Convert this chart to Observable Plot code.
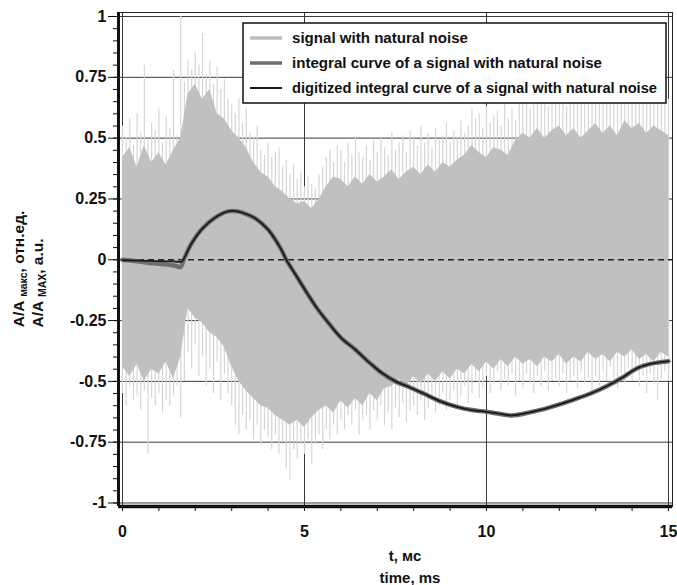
<!DOCTYPE html>
<html><head><meta charset="utf-8">
<script src="https://cdn.jsdelivr.net/npm/d3@7"></script>
<script src="https://cdn.jsdelivr.net/npm/@observablehq/plot@0.6"></script>
<style>body{margin:0;background:#fff}#chart{width:677px;height:585px}</style>
</head><body><div id="chart"></div>
<script>
// dense noise band, sampled every 0.2 ms (0 … 15 ms)
const denseHi = [0.42,0.46,0.38,0.47,0.40,0.44,0.39,0.45,0.50,0.68,0.72,0.66,0.70,0.60,0.58,0.53,0.50,0.46,0.40,0.36,
  0.34,0.30,0.28,0.25,0.23,0.24,0.21,0.25,0.30,0.34,0.33,0.30,0.34,0.31,0.35,0.32,0.34,0.37,0.33,0.36,
  0.38,0.35,0.39,0.36,0.40,0.38,0.41,0.43,0.47,0.44,0.42,0.46,0.45,0.43,0.49,0.52,0.50,0.54,0.50,0.53,
  0.55,0.51,0.54,0.50,0.53,0.56,0.52,0.55,0.51,0.57,0.54,0.56,0.52,0.55,0.53,0.51];
const denseLo = [-0.44,-0.48,-0.43,-0.50,-0.45,-0.47,-0.42,-0.49,-0.40,-0.20,-0.24,-0.26,-0.30,-0.32,-0.36,-0.44,-0.50,-0.54,-0.57,-0.60,
  -0.61,-0.64,-0.66,-0.68,-0.66,-0.69,-0.65,-0.62,-0.60,-0.63,-0.58,-0.61,-0.57,-0.60,-0.55,-0.58,-0.53,-0.52,-0.49,-0.52,
  -0.48,-0.51,-0.47,-0.50,-0.46,-0.49,-0.45,-0.47,-0.43,-0.46,-0.42,-0.45,-0.41,-0.44,-0.40,-0.43,-0.41,-0.44,-0.40,-0.42,
  -0.39,-0.43,-0.40,-0.42,-0.38,-0.41,-0.39,-0.42,-0.38,-0.40,-0.37,-0.41,-0.39,-0.42,-0.38,-0.40];
// sparse noise spikes, sampled every 0.1 ms (0 … 15 ms)
const spikeHi = [0.55,0.50,0.58,0.47,0.60,0.52,0.80,0.49,0.56,0.53,
  0.62,0.48,0.59,0.54,0.78,0.51,1.00,0.73,0.82,0.78,
  0.85,0.80,0.93,0.76,0.82,0.72,0.79,0.70,0.74,0.66,
  0.64,0.60,0.66,0.56,0.62,0.52,0.50,0.55,0.45,0.43,
  0.48,0.42,0.44,0.46,0.38,0.41,0.35,0.39,0.33,0.36,
  0.30,0.34,0.31,0.29,0.35,0.38,0.42,0.45,0.40,0.47,
  0.45,0.40,0.48,0.43,0.50,0.44,0.42,0.47,0.41,0.49,
  0.44,0.50,0.46,0.43,0.52,0.45,0.48,0.51,0.44,0.53,
  0.50,0.47,0.55,0.48,0.52,0.46,0.54,0.49,0.51,0.56,
  0.48,0.53,0.50,0.57,0.52,0.55,0.62,0.58,0.60,0.54,
  0.63,0.56,0.59,0.61,0.55,0.64,0.58,0.62,0.57,0.66,
  0.65,0.68,0.62,0.66,0.70,0.64,0.67,0.63,0.69,0.65,
  0.70,0.66,0.63,0.69,0.67,0.71,0.64,0.68,0.66,0.70,
  0.67,0.72,0.65,0.69,0.71,0.66,0.70,0.68,0.73,0.67,
  0.71,0.69,0.66,0.72,0.68,0.70,0.67,0.71,0.69,0.68,0.66];
const spikeLo = [-0.55,-0.60,-0.52,-0.58,-0.56,-0.62,-0.54,-0.80,-0.57,-0.60,
  -0.55,-0.63,-0.58,-0.60,-0.56,-0.52,-0.65,-0.50,-0.38,-0.45,
  -0.35,-0.48,-0.40,-0.52,-0.45,-0.55,-0.42,-0.58,-0.47,-0.55,
  -0.60,-0.68,-0.72,-0.64,-0.70,-0.66,-0.74,-0.68,-0.76,-0.70,
  -0.73,-0.78,-0.72,-0.80,-0.75,-0.86,-0.91,-0.78,-0.82,-0.76,
  -0.80,-0.74,-0.84,-0.76,-0.72,-0.78,-0.70,-0.74,-0.68,-0.72,
  -0.66,-0.70,-0.64,-0.68,-0.62,-0.72,-0.66,-0.64,-0.70,-0.62,
  -0.66,-0.60,-0.68,-0.63,-0.70,-0.61,-0.65,-0.59,-0.67,-0.62,
  -0.60,-0.64,-0.58,-0.66,-0.61,-0.57,-0.63,-0.60,-0.55,-0.62,
  -0.58,-0.54,-0.60,-0.56,-0.52,-0.59,-0.55,-0.50,-0.57,-0.53,
  -0.48,-0.55,-0.51,-0.46,-0.54,-0.49,-0.52,-0.47,-0.56,-0.50,
  -0.53,-0.47,-0.51,-0.55,-0.48,-0.52,-0.46,-0.54,-0.50,-0.49,
  -0.52,-0.47,-0.55,-0.50,-0.48,-0.53,-0.46,-0.51,-0.49,-0.54,
  -0.48,-0.52,-0.46,-0.50,-0.44,-0.49,-0.53,-0.47,-0.51,-0.45,
  -0.50,-0.46,-0.52,-0.48,-0.55,-0.47,-0.51,-0.58,-0.49,-0.46,-0.50];
// integral curve (grey, thick)
const integralT = [0,0.4,0.72,1.0,1.27,1.45,1.6,1.67,1.9,2.17,2.53,2.9,3.15,3.4,3.65,4.0,4.2,4.39,4.5,4.75,5.0,5.3,5.66,6.0,6.4,6.8,7.13,7.5,7.9,8.27,8.7,9.19,9.6,10.0,10.3,10.7,11.2,11.6,11.94,12.4,12.86,13.3,13.77,14.0,14.23,14.45,14.69,15.0];
const integralY = [0,-0.006,-0.013,-0.016,-0.02,-0.024,-0.03,-0.004,0.068,0.124,0.172,0.199,0.199,0.188,0.17,0.124,0.082,0.034,0,-0.06,-0.12,-0.19,-0.26,-0.32,-0.37,-0.425,-0.466,-0.50,-0.525,-0.55,-0.58,-0.605,-0.618,-0.625,-0.632,-0.64,-0.627,-0.613,-0.598,-0.575,-0.55,-0.52,-0.481,-0.458,-0.44,-0.43,-0.423,-0.417];
const digitT = [0,0.8,1.4,1.62,1.67,1.9,2.17,2.53,2.9,3.15,3.4,3.65,4.0,4.2,4.39,4.5,4.75,5.0,5.3,5.66,6.0,6.4,6.8,7.13,7.5,7.9,8.27,8.7,9.19,9.6,10.0,10.3,10.7,11.2,11.6,11.94,12.4,12.86,13.3,13.77,14.0,14.23,14.45,14.69,15.0];
const digitY = [-0.002,-0.005,-0.007,-0.008,0.0,0.068,0.124,0.172,0.199,0.199,0.188,0.17,0.124,0.082,0.034,0,-0.06,-0.12,-0.19,-0.26,-0.32,-0.37,-0.425,-0.466,-0.50,-0.525,-0.55,-0.58,-0.605,-0.618,-0.625,-0.632,-0.64,-0.627,-0.613,-0.598,-0.575,-0.55,-0.52,-0.481,-0.458,-0.44,-0.43,-0.423,-0.417];

const xMajorTicks = [0,5,10,15];
const xMinorTicks = [0,1,2,3,4,5,6,7,8,9,10,11,12,13,14,15];
const yMajorTicks = [-1,-0.75,-0.5,-0.25,0,0.25,0.5,0.75,1];
const yGridLines = [-1,-0.75,-0.5,-0.25,0.25,0.5,0.75,1];
const legendLabels = ["signal with natural noise","integral curve of a signal with natural noise","digitized integral curve of a signal with natural noise"];
const legendColors = ["#bdbdbd","#6e6e6e","#1a1a1a"];

const dense = denseHi.map((h,i)=>({t:Math.round(i*2)/10, hi:h, lo:denseLo[i]}));
const spikes = spikeHi.map((h,i)=>({t:i/10, hi:h, lo:spikeLo[i]}));
const integral = integralT.map((t,i)=>({t, v:integralY[i]}));
const digit = digitT.map((t,i)=>({t, v:digitY[i]}));
const yMinorTicks = d3.range(-20,21).map(i=>i/20);

const X0=-0.11, X1=15.11, Y0=-1.0144, Y1=1.0165;
const font = "'Liberation Sans', Arial, sans-serif";

const plot = Plot.plot({
  width:677, height:585, marginLeft:118, marginRight:5, marginTop:12, marginBottom:79,
  x:{domain:[X0,X1], axis:null}, y:{domain:[Y0,Y1], axis:null},
  style:{fontFamily:font, fontWeight:"bold", fontSize:"16px", background:"#fff", color:"#111"},
  marks:[
    Plot.ruleY(yGridLines, {stroke:"#3a3a3a", strokeWidth:1}),
    Plot.ruleX(xMajorTicks, {stroke:"#3a3a3a", strokeWidth:1}),
    Plot.ruleX(spikes, {x:"t", y1:0, y2:"hi", stroke:"#d6d6d6", strokeWidth:1.2}),
    Plot.ruleX(spikes, {x:"t", y1:0, y2:"lo", stroke:"#d6d6d6", strokeWidth:1.2}),
    Plot.areaY(dense, {x:"t", y1:"lo", y2:"hi", fill:"#c0c0c0"}),
    Plot.ruleY([0], {stroke:"#222", strokeWidth:1.6, strokeDasharray:"6,4"}),
    Plot.line(integral, {x:"t", y:"v", stroke:"#6e6e6e", strokeWidth:4.5, curve:"catmull-rom"}),
    Plot.line(digit, {x:"t", y:"v", stroke:"#1a1a1a", strokeWidth:1.8, curve:"catmull-rom"}),
    Plot.frame({stroke:"#222", strokeWidth:1}),
    Plot.ruleX([X0], {stroke:"#111", strokeWidth:3}),
    Plot.ruleY([Y0], {stroke:"#111", strokeWidth:3.5}),
    Plot.axisY(yMinorTicks, {tickSize:5, tickFormat:()=>"", label:null, stroke:"#111"}),
    Plot.axisY(yMajorTicks, {tickSize:10, tickPadding:2, tickFormat:d=>String(d), fontSize:16, label:null, stroke:"#111"}),
    Plot.axisX(xMinorTicks, {tickSize:5, tickFormat:()=>"", label:null, stroke:"#111"}),
    Plot.axisX(xMajorTicks, {tickSize:5, tickPadding:14, tickFormat:d=>String(d), fontSize:16, label:null, stroke:"#111"})
  ]
});
document.getElementById("chart").appendChild(plot);

const svg = d3.select(plot);
// legend box
const lg = svg.append("g").attr("font-family", font).attr("font-weight","bold").attr("text-anchor","start");
lg.append("rect").attr("x",243).attr("y",23).attr("width",423).attr("height",80)
  .attr("fill","#fff").attr("stroke","#111").attr("stroke-width",1.5);
const legendY = [38,63,88];
const legendLen = [176,310,365];
legendLabels.forEach((lab,i)=>{
  lg.append("line").attr("x1",250).attr("x2",282).attr("y1",legendY[i]).attr("y2",legendY[i])
    .attr("stroke",legendColors[i]).attr("stroke-width", i===2?2:3.5);
  lg.append("text").attr("x",292).attr("y",legendY[i]).attr("dy","0.35em").attr("font-size",14)
    .attr("text-anchor","start").attr("textLength",legendLen[i]).attr("lengthAdjust","spacingAndGlyphs")
    .attr("fill","#111").text(lab);
});
// y-axis titles
const yt = svg.append("g").attr("font-family", font).attr("font-weight","bold").attr("fill","#111");
const t1 = yt.append("text").attr("transform","translate(24,269) rotate(-90)").attr("text-anchor","middle").attr("font-size",15.5);
t1.append("tspan").text("A/A ");
t1.append("tspan").attr("font-size",10.5).attr("dy",3).text("макс");
t1.append("tspan").attr("dy",-3).text(", отн.ед.");
const t2 = yt.append("text").attr("transform","translate(43,283) rotate(-90)").attr("text-anchor","middle").attr("font-size",15.5);
t2.append("tspan").text("A/A ");
t2.append("tspan").attr("font-size",10.5).attr("dy",3).text("MAX");
t2.append("tspan").attr("dy",-3).text(", a.u.");
// x-axis titles
yt.append("text").attr("x",405).attr("y",561).attr("text-anchor","middle").attr("font-size",15).text("t, мс");
yt.append("text").attr("x",410).attr("y",583).attr("text-anchor","middle").attr("font-size",15).text("time, ms");
</script>
</body></html>
